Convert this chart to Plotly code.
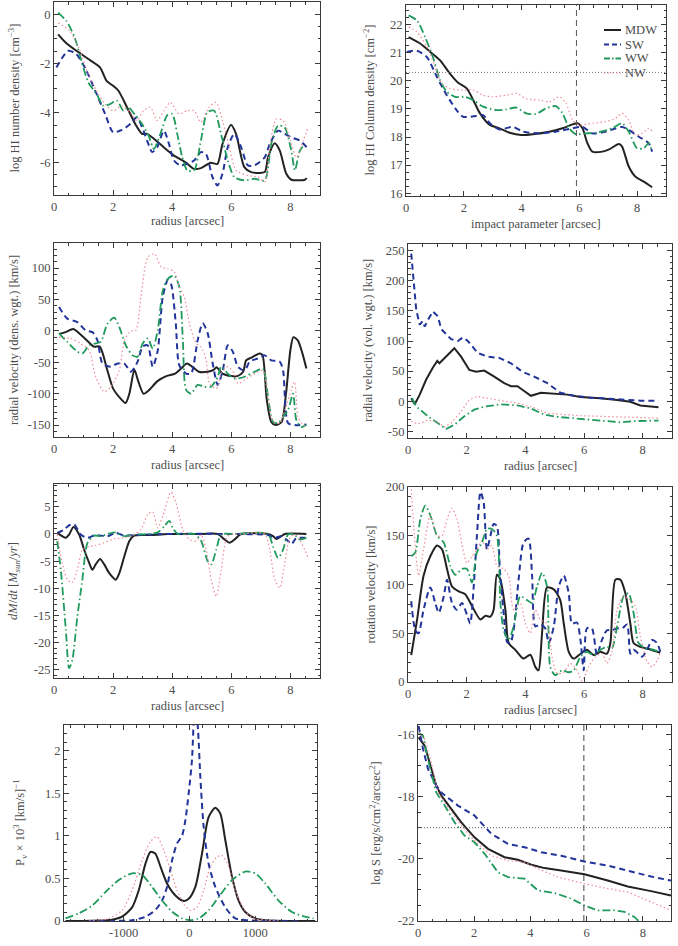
import plotly.graph_objects as go

W, H = 678, 946
FONT = "Liberation Serif"
TXT = "#4d4d4d"
AX = "#3a3a3a"

# ---------------- data ----------------
# Panel 1: log HI number density vs radius
p1_mdw_x = [0.14, 0.4, 0.76, 1.22, 1.56, 1.78, 2.0, 2.18, 2.47, 2.75, 2.98, 3.15, 3.38, 3.72, 4.06, 4.45, 4.74, 4.97, 5.3, 5.53, 5.7, 5.99, 6.16, 6.44, 6.67, 7.13, 7.24, 7.47, 7.64, 7.86, 8.03, 8.49, 8.55]
p1_mdw_y = [-0.81, -1.15, -1.48, -1.86, -2.16, -2.7, -2.9, -3.1, -3.77, -4.45, -4.85, -4.85, -5.05, -5.4, -5.73, -6.0, -6.27, -6.24, -6.02, -6.07, -5.26, -4.49, -4.85, -6.2, -6.4, -6.4, -5.8, -5.23, -5.53, -6.47, -6.71, -6.71, -6.64]
p1_sw_x = [0.08, 0.48, 0.76, 1.1, 1.44, 1.73, 2.0, 2.3, 2.58, 2.8, 2.98, 3.15, 3.32, 3.49, 3.72, 3.89, 4.06, 4.28, 4.51, 4.74, 4.97, 5.14, 5.36, 5.53, 5.7, 5.88, 6.1, 6.33, 6.56, 6.78, 7.13, 7.3, 7.58, 7.8, 8.03, 8.32, 8.55]
p1_sw_y = [-2.16, -1.48, -1.62, -2.29, -3.23, -4.04, -4.78, -4.69, -4.45, -4.18, -4.58, -5.12, -5.59, -5.39, -4.72, -5.26, -5.93, -6.13, -6.06, -5.93, -5.59, -5.66, -6.6, -6.94, -6.47, -5.39, -4.85, -5.39, -6.13, -6.13, -5.8, -5.26, -4.72, -4.85, -4.99, -5.12, -5.39]
p1_ww_x = [0.14, 0.42, 0.7, 0.93, 1.16, 1.44, 1.67, 1.9, 2.13, 2.35, 2.52, 2.75, 2.98, 3.2, 3.38, 3.6, 3.83, 4.0, 4.17, 4.34, 4.51, 4.74, 4.97, 5.19, 5.42, 5.65, 5.88, 6.1, 6.44, 6.78, 7.13, 7.35, 7.58, 7.8, 8.03, 8.15, 8.32, 8.49]
p1_ww_y = [0.07, -0.27, -0.94, -1.89, -2.76, -3.23, -3.71, -3.64, -3.5, -3.91, -3.77, -4.1, -4.45, -4.92, -5.46, -4.85, -4.1, -4.04, -4.85, -5.8, -6.33, -6.33, -5.12, -3.97, -3.91, -4.85, -5.93, -6.6, -6.74, -6.67, -6.74, -5.26, -4.52, -4.58, -5.53, -6.33, -5.53, -5.26]
p1_nw_x = [0.14, 0.53, 0.88, 1.16, 1.44, 1.73, 2.0, 2.3, 2.58, 2.8, 3.03, 3.26, 3.49, 3.72, 3.94, 4.23, 4.51, 4.74, 4.97, 5.25, 5.48, 5.7, 5.93, 6.16, 6.56, 6.9, 7.13, 7.3, 7.52, 7.75, 8.03, 8.2, 8.43, 8.6]
p1_nw_y = [-0.34, -0.67, -1.48, -2.43, -3.1, -3.64, -3.91, -3.71, -3.97, -4.31, -3.91, -3.77, -4.31, -3.91, -3.57, -4.04, -3.91, -3.91, -4.38, -3.77, -3.57, -4.31, -5.39, -6.33, -6.54, -6.6, -6.8, -5.39, -4.25, -4.31, -5.26, -5.8, -5.12, -4.58]

# Panel 2: log HI column density vs impact parameter
p2_mdw_x = [0.09, 0.49, 0.84, 1.18, 1.52, 1.81, 2.1, 2.33, 2.56, 2.9, 3.24, 3.59, 3.99, 4.39, 4.96, 5.42, 5.77, 5.94, 6.11, 6.28, 6.45, 6.8, 7.03, 7.37, 7.48, 7.71, 7.94, 8.23, 8.52]
p2_mdw_y = [21.56, 21.33, 21.03, 20.73, 20.26, 19.93, 19.73, 19.31, 18.84, 18.43, 18.31, 18.15, 18.07, 18.1, 18.19, 18.31, 18.45, 18.49, 18.31, 17.78, 17.48, 17.48, 17.56, 17.75, 17.66, 16.95, 16.59, 16.41, 16.21]
p2_sw_x = [0.03, 0.38, 0.72, 1.07, 1.41, 1.75, 1.98, 2.44, 2.67, 2.9, 3.24, 3.7, 4.05, 4.62, 5.19, 5.77, 6.11, 6.45, 6.91, 7.48, 7.71, 8.06, 8.4, 8.52]
p2_sw_y = [21.03, 21.07, 20.85, 20.14, 19.49, 18.96, 18.72, 18.75, 18.78, 18.49, 18.27, 18.36, 18.19, 18.13, 18.19, 18.31, 18.36, 18.13, 18.19, 18.36, 18.25, 18.01, 17.78, 17.48]
p2_ww_x = [0.09, 0.38, 0.66, 0.95, 1.18, 1.41, 1.7, 2.04, 2.33, 2.67, 3.13, 3.47, 3.82, 4.16, 4.5, 4.85, 5.19, 5.42, 5.65, 5.88, 6.22, 6.56, 7.14, 7.48, 7.71, 8.0, 8.23, 8.4, 8.52]
p2_ww_y = [22.33, 22.15, 21.56, 20.79, 20.02, 19.61, 19.43, 19.43, 19.31, 19.08, 18.96, 18.98, 19.05, 18.84, 18.82, 19.02, 19.1, 18.84, 18.31, 18.1, 18.13, 18.15, 18.31, 18.49, 18.19, 17.6, 17.6, 17.78, 17.48]
p2_nw_x = [0.09, 0.38, 0.72, 1.01, 1.24, 1.52, 1.93, 2.33, 2.67, 3.01, 3.47, 3.82, 4.16, 4.62, 4.96, 5.31, 5.54, 5.77, 6.0, 6.45, 6.91, 7.25, 7.48, 7.71, 7.94, 8.17, 8.4, 8.52]
p2_nw_y = [21.92, 21.74, 21.21, 20.5, 19.91, 19.73, 19.67, 19.67, 19.49, 19.43, 19.49, 19.55, 19.37, 19.31, 19.25, 19.43, 19.2, 18.6, 18.43, 18.49, 18.55, 18.66, 18.84, 18.6, 18.07, 18.13, 18.31, 18.22]
p2_vline_x = 5.9
p2_hline_y = 20.3

# Panel 3: radial velocity (density weighted)
p3_mdw_x = [0.17, 0.4, 0.65, 1.0, 1.35, 1.55, 1.8, 2.0, 2.2, 2.42, 2.55, 2.72, 2.85, 3.03, 3.2, 3.5, 3.8, 4.1, 4.3, 4.5, 4.7, 4.9, 5.2, 5.4, 5.5, 5.7, 6.0, 6.2, 6.4, 6.5, 6.7, 6.95, 7.05, 7.2, 7.35, 7.5, 7.7, 7.85, 8.0, 8.1, 8.25, 8.4, 8.54]
p3_mdw_y = [-5, -2, 3, -10, -25, -25, -62, -92, -105, -115, -100, -62, -80, -100, -95, -80, -72, -68, -60, -52, -58, -65, -65, -62, -58, -68, -72, -72, -65, -47, -42, -36, -38, -110, -145, -150, -145, -100, -30, -10, -15, -35, -60]
p3_sw_x = [0.17, 0.45, 0.79, 1.07, 1.3, 1.47, 1.64, 1.92, 2.15, 2.38, 2.6, 2.83, 3.0, 3.17, 3.34, 3.51, 3.68, 3.85, 3.96, 4.12, 4.24, 4.47, 4.64, 4.86, 5.03, 5.2, 5.37, 5.54, 5.71, 5.88, 6.05, 6.22, 6.45, 6.62, 6.9, 7.13, 7.35, 7.64, 7.75, 7.92, 8.14, 8.54]
p3_sw_y = [38, 19.5, 14, 1, -2, -15, -52, -57, -52, -52, -65, -49, -25, -23, -57, -31, 54, 81, 75, 12, -55, -68, -68, -15, 12, -4, -52, -86, -63, -23, -33, -57, -63, -49, -44, -39, -47, -49, -63, -147, -150, -149]
p3_ww_x = [0.17, 0.45, 0.79, 0.96, 1.19, 1.41, 1.58, 1.81, 2.04, 2.21, 2.43, 2.66, 2.83, 3.0, 3.17, 3.34, 3.51, 3.68, 3.85, 4.07, 4.24, 4.36, 4.47, 4.64, 4.86, 5.09, 5.31, 5.54, 5.66, 5.88, 6.1, 6.45, 6.79, 7.07, 7.24, 7.41, 7.58, 7.75, 7.92, 8.09, 8.2, 8.37, 8.54]
p3_ww_y = [-4, -17.6, -33, -36, -23, -20, -17.6, 11.5, 21, 6, -23, -39, -41, -20, -12, -28, 1, 64, 83, 88, 70, -15, -94, -100, -86, -89, -89, -73, -57, -68, -76, -73, -65, -60, -105, -145, -147, -137, -126, -100, -142, -153, -150]
p3_nw_x = [0.17, 0.57, 0.9, 1.19, 1.41, 1.7, 1.92, 2.21, 2.38, 2.6, 2.77, 2.94, 3.17, 3.4, 3.62, 3.85, 4.07, 4.24, 4.41, 4.58, 4.81, 4.98, 5.15, 5.26, 5.49, 5.66, 5.88, 6.1, 6.22, 6.45, 6.79, 7.07, 7.24, 7.41, 7.64, 7.81, 8.03, 8.14, 8.26, 8.43, 8.54]
p3_nw_y = [-10, -12, -20, -31, -73, -97, -89, -63, -15, 0, 1, 54, 117, 123, 102, 99, 94, 70, 54, 12, -20, -26, -47, -84, -92, -68, -57, -68, -84, -78, -68, -63, -105, -145, -147, -126, -94, -81, -137, -150, -152]

# Panel 4: radial velocity (volume weighted)
p4_mdw_x = [0.11, 0.23, 0.4, 0.62, 0.85, 1.0, 1.07, 1.3, 1.58, 1.81, 2.09, 2.32, 2.6, 2.94, 3.28, 3.51, 3.73, 3.96, 4.19, 4.53, 4.98, 5.43, 5.88, 6.56, 7.13, 7.58, 7.92, 8.54]
p4_mdw_y = [5, -5, 11, 36, 56, 67, 63, 74, 88, 74, 52, 49, 51, 41, 30, 25, 25, 17, 9, 14, 12, 11, 7, 5, 2, -1, -7, -10]
p4_sw_x = [0.11, 0.2, 0.28, 0.4, 0.5, 0.57, 0.68, 0.85, 1.02, 1.13, 1.47, 1.7, 1.87, 2.04, 2.38, 2.71, 3.11, 3.51, 3.9, 4.3, 4.75, 5.2, 5.66, 6.22, 6.79, 7.35, 7.92, 8.54]
p4_sw_y = [245, 201, 152, 127, 133, 124, 135, 149, 141, 120, 103, 100, 106, 100, 80, 74, 72, 63, 49, 41, 30, 14, 9, 6, 4, 2.5, 1, 1]
p4_ww_x = [0.14, 0.28, 0.68, 1.02, 1.3, 1.58, 1.92, 2.26, 2.6, 3.17, 3.73, 4.19, 4.64, 5.09, 5.66, 6.22, 6.79, 7.24, 7.69, 8.54]
p4_ww_y = [5, -8.6, -25, -36, -46, -39, -25, -14, -9, -5, -7, -12, -22, -26, -28, -31, -33, -35, -33, -32]
p4_nw_x = [0.11, 0.34, 0.68, 1.02, 1.24, 1.47, 1.81, 2.09, 2.38, 2.71, 3.17, 3.73, 4.3, 4.75, 5.32, 5.88, 6.56, 7.24, 7.92, 8.54]
p4_nw_y = [-33, -38, -31, -35, -43, -36, -17, 2.5, 8, 5, 1, -3, -11, -20, -22, -24, -25, -26, -28, -28]

# Panel 5: mass flow rate dM/dt
p5_mdw_x = [0.11, 0.4, 0.51, 0.66, 0.85, 1.02, 1.19, 1.3, 1.41, 1.56, 1.7, 1.87, 2.09, 2.21, 2.38, 2.55, 2.71, 3.28, 3.85, 4.98, 5.54, 5.77, 5.94, 6.11, 6.33, 7.24, 7.41, 7.52, 7.69, 7.81, 8.54]
p5_mdw_y = [0.2, -0.7, -0.1, 1.3, -0.1, -2.9, -5.3, -6.6, -5.6, -4.6, -5.6, -7.2, -8.4, -7.2, -4.1, -1.3, -0.3, -0.2, 0, 0, 0, -1, -1.6, -1, 0, 0, -0.4, -0.9, -0.4, 0, 0]
p5_sw_x = [0.11, 0.34, 0.51, 0.68, 0.9, 1.13, 1.41, 1.81, 2.09, 2.38, 2.71, 3.85, 6.0, 7.24, 7.47, 7.69, 7.92, 8.03, 8.2, 8.37, 8.54]
p5_sw_y = [0.2, 0.8, 1.6, 1.8, -0.1, -0.7, -0.2, -0.4, 0.2, -0.3, -0.2, 0, 0, -0.2, -0.7, -0.4, -1.3, -1.9, -0.7, -0.7, -0.7]
p5_ww_x = [0.11, 0.23, 0.4, 0.51, 0.62, 0.79, 0.96, 1.13, 1.36, 1.58, 2.04, 2.38, 2.71, 3.28, 3.51, 3.73, 3.9, 4.02, 4.19, 4.75, 4.98, 5.2, 5.32, 5.49, 5.66, 6.11, 7.24, 7.41, 7.58, 7.75, 7.92, 8.14, 8.31, 8.54]
p5_ww_y = [-1.3, -6.6, -17.6, -24.7, -23.2, -15.2, -8.4, -1.7, -0.3, -0.4, 0.3, -0.4, -0.1, 0, 0.3, 1.4, 2.4, 1.1, 0, 0, -1.3, -5, -5.6, -2.9, -0.1, 0, 0, -2.3, -4.4, -2.9, -0.1, -0.1, -1, -0.7]
p5_nw_x = [0.11, 0.28, 0.45, 0.62, 0.79, 0.96, 1.19, 1.41, 1.7, 2.04, 2.38, 2.71, 2.94, 3.17, 3.34, 3.51, 3.68, 3.96, 4.13, 4.36, 4.58, 4.81, 4.98, 5.15, 5.32, 5.49, 5.66, 5.88, 6.33, 7.13, 7.3, 7.47, 7.64, 7.81, 7.98, 8.14, 8.31, 8.48, 8.6]
p5_nw_y = [-0.1, -5.3, -8.4, -8.9, -6.6, -2.9, -2.3, -2.1, -1.6, -0.9, -0.7, -0.1, 0.8, 3.6, 4.1, 1.1, 3.3, 7.7, 5.7, 0.8, -1, -1.3, -0.1, -2.9, -8.4, -11.5, -6.6, -0.4, 0, 0, -2.9, -8.4, -9.9, -5.3, -0.7, -0.1, -1, -2.9, -4.4]

# Panel 6: rotation velocity
p6_mdw_x = [0.11, 0.31, 0.53, 0.76, 0.99, 1.16, 1.33, 1.5, 1.73, 1.95, 2.18, 2.47, 2.64, 2.81, 2.92, 3.03, 3.15, 3.32, 3.43, 3.66, 3.94, 4.17, 4.34, 4.45, 4.57, 4.74, 4.97, 5.19, 5.31, 5.48, 5.65, 5.88, 6.1, 6.33, 6.56, 6.78, 6.9, 7.07, 7.24, 7.41, 7.58, 7.69, 7.92, 8.26, 8.6]
p6_mdw_y = [27.6, 64, 109, 129, 140, 136, 116, 98, 93, 90, 78, 64, 68, 67, 74, 110, 105, 74, 40, 33, 24, 28, 15.5, 12, 50, 97, 95, 84, 60, 31, 24, 29, 33, 27.6, 31, 29, 40, 105, 105, 91, 60, 40, 36, 33.4, 30]
p6_sw_x = [0.11, 0.25, 0.36, 0.53, 0.76, 0.93, 1.05, 1.22, 1.33, 1.5, 1.67, 1.84, 2.01, 2.12, 2.24, 2.35, 2.47, 2.58, 2.69, 2.81, 2.92, 3.03, 3.13, 3.26, 3.38, 3.49, 3.6, 3.77, 3.94, 4.11, 4.23, 4.34, 4.51, 4.68, 4.8, 4.97, 5.14, 5.31, 5.48, 5.59, 5.76, 5.88, 5.99, 6.1, 6.27, 6.44, 6.61, 6.78, 6.95, 7.13, 7.3, 7.47, 7.58, 7.69, 7.86, 7.98, 8.15, 8.32, 8.49, 8.6]
p6_sw_y = [83, 53, 50, 74, 97, 81, 71, 88, 105, 81, 74, 81, 69, 60, 98, 150, 195, 184, 136, 150, 162, 160, 116, 71, 41, 40, 53, 105, 143, 147, 109, 57, 59, 55, 40, 57, 98, 109, 91, 60, 61, 43, 12, 55, 55, 27.6, 43, 53, 53, 55, 55, 59, 29, 33, 29, 26, 33, 43, 40, 31]
p6_ww_x = [0.11, 0.25, 0.42, 0.59, 0.76, 0.99, 1.22, 1.44, 1.61, 1.84, 2.01, 2.18, 2.35, 2.52, 2.69, 2.86, 3.03, 3.15, 3.26, 3.43, 3.6, 3.83, 4.06, 4.23, 4.4, 4.57, 4.74, 4.85, 5.02, 5.25, 5.48, 5.65, 5.88, 6.1, 6.33, 6.56, 6.78, 6.95, 7.13, 7.35, 7.52, 7.69, 7.86, 8.09, 8.38, 8.6]
p6_ww_y = [129, 133, 167, 181, 171, 150, 143, 119, 110, 116, 116, 102, 133, 143, 157, 157, 150, 81, 53, 43, 57, 88, 84, 81, 98, 112, 98, 15.5, 7, 12, 10, 12, 26, 31, 27.6, 33, 36, 34.5, 57, 88, 91, 71, 40, 34.5, 33, 30]
p6_nw_x = [0.11, 0.22, 0.36, 0.53, 0.76, 0.99, 1.16, 1.33, 1.5, 1.67, 1.84, 2.01, 2.18, 2.35, 2.52, 2.69, 2.86, 3.03, 3.26, 3.43, 3.6, 3.83, 4.0, 4.17, 4.34, 4.51, 4.74, 4.91, 5.08, 5.31, 5.53, 5.76, 5.93, 6.16, 6.39, 6.61, 6.78, 6.95, 7.13, 7.35, 7.58, 7.75, 7.92, 8.15, 8.32, 8.49, 8.6]
p6_nw_y = [198, 150, 109, 136, 171, 150, 150, 167, 178, 167, 141, 122, 129, 136, 145, 136, 140, 119, 116, 109, 74, 81, 60, 50, 74, 64, 60, 26, 8.6, 10, 19, 12, 1, 15.5, 26, 29, 19, 31, 74, 88, 84, 78, 47, 21, 15.5, 22, 30]

# Panel 7: velocity probability distribution P_v x 10^3
p7_mdw_x = [-1882, -1174, -1022, -870, -769, -668, -592, -516, -440, -339, -212, -86, -10, 91, 192, 293, 395, 471, 546, 648, 749, 850, 1002, 1154, 1913]
p7_mdw_y = [0, 0.016, 0.05, 0.16, 0.36, 0.67, 0.81, 0.79, 0.64, 0.44, 0.3, 0.235, 0.26, 0.4, 0.79, 1.22, 1.33, 1.26, 0.95, 0.52, 0.24, 0.106, 0.03, 0.01, 0]
p7_sw_x = [-1528, -870, -668, -516, -415, -339, -263, -187, -111, -61, -10, 40, 85, 132, 167, 218, 293, 395, 546, 698, 901, 1660]
p7_sw_y = [0, 0.01, 0.05, 0.13, 0.24, 0.4, 0.71, 0.91, 1.0, 1.18, 1.5, 1.89, 2.6, 2.24, 1.69, 1.1, 0.67, 0.4, 0.16, 0.03, 0.008, 0]
p7_ww_x = [-1882, -1680, -1477, -1275, -1073, -870, -719, -567, -415, -263, -111, 15, 142, 293, 445, 648, 850, 1002, 1154, 1356, 1559, 1761, 1888]
p7_ww_y = [0.03, 0.09, 0.18, 0.34, 0.48, 0.56, 0.54, 0.4, 0.24, 0.11, 0.03, 0.01, 0.03, 0.125, 0.28, 0.48, 0.58, 0.56, 0.44, 0.24, 0.106, 0.05, 0.03]
p7_nw_x = [-1528, -1225, -1022, -870, -719, -592, -491, -390, -288, -187, -86, 15, 116, 218, 319, 420, 496, 597, 698, 825, 951, 1154, 1407]
p7_nw_y = [0, 0.03, 0.125, 0.36, 0.71, 0.93, 0.99, 0.83, 0.6, 0.36, 0.2, 0.125, 0.16, 0.36, 0.64, 0.75, 0.77, 0.64, 0.36, 0.145, 0.04, 0.01, 0]

# Panel 8: log surface brightness
p8_mdw_x = [0.02, 0.24, 0.41, 0.65, 0.83, 1.18, 1.54, 2.01, 2.49, 3.08, 3.55, 4.03, 4.5, 5.09, 5.92, 6.75, 7.46, 8.29, 9.0]
p8_mdw_y = [-16.1, -16.37, -16.9, -17.65, -17.97, -18.4, -18.83, -19.31, -19.68, -19.95, -20.03, -20.19, -20.3, -20.38, -20.5, -20.7, -20.89, -21.04, -21.18]
p8_sw_x = [0.02, 0.18, 0.36, 0.65, 0.83, 1.42, 2.01, 2.61, 3.2, 3.79, 4.38, 5.09, 5.92, 6.75, 7.58, 8.29, 9.0]
p8_sw_y = [-15.73, -16.48, -17.12, -17.65, -17.87, -18.29, -18.61, -19.2, -19.52, -19.63, -19.79, -19.9, -20.09, -20.22, -20.41, -20.57, -20.7]
p8_ww_x = [0.02, 0.18, 0.41, 0.65, 0.95, 1.3, 1.66, 2.01, 2.37, 2.84, 3.2, 3.79, 4.27, 4.86, 5.45, 5.92, 6.4, 6.99, 7.35, 7.7, 7.94]
p8_ww_y = [-15.95, -16.05, -17.01, -17.87, -18.29, -18.83, -19.26, -19.47, -19.84, -20.43, -20.59, -20.64, -21.02, -21.1, -21.28, -21.5, -21.66, -21.66, -21.71, -21.87, -22.08]
p8_nw_x = [0.02, 0.24, 0.47, 0.71, 1.07, 1.54, 2.01, 2.61, 3.2, 3.79, 4.27, 4.98, 5.92, 6.75, 7.46, 8.29, 9.0]
p8_nw_y = [-15.95, -16.16, -16.9, -17.87, -18.35, -18.93, -19.42, -19.9, -20.06, -20.11, -20.32, -20.59, -20.8, -20.96, -21.07, -21.39, -21.66]
p8_vline_x = 5.9
p8_hline_y = -19.0

series_names = ["MDW", "SW", "WW", "NW"]

# ---------------- styles ----------------
STY = {
    "MDW": dict(color="#222222", width=2.0, dash="solid"),
    "SW": dict(color="#22349a", width=2.0, dash="6px,4px"),
    "WW": dict(color="#1f9a5c", width=1.8, dash="8px,3px,1.5px,3px"),
    "NW": dict(color="#f08c98", width=1.2, dash="1.5px,2.5px"),
}

# panel pixel boxes: (left, right, top, bottom)
BOX = {
    1: (54, 320, 2, 195), 2: (406, 666, 5, 196),
    3: (54, 320, 243, 437), 4: (408, 672, 244, 438),
    5: (54, 320, 484, 678), 6: (408, 672, 487, 682),
    7: (64, 317, 725, 921), 8: (418, 671, 725, 921),
}

panels = {
    1: [(p1_mdw_x, p1_mdw_y), (p1_sw_x, p1_sw_y), (p1_ww_x, p1_ww_y), (p1_nw_x, p1_nw_y)],
    2: [(p2_mdw_x, p2_mdw_y), (p2_sw_x, p2_sw_y), (p2_ww_x, p2_ww_y), (p2_nw_x, p2_nw_y)],
    3: [(p3_mdw_x, p3_mdw_y), (p3_sw_x, p3_sw_y), (p3_ww_x, p3_ww_y), (p3_nw_x, p3_nw_y)],
    4: [(p4_mdw_x, p4_mdw_y), (p4_sw_x, p4_sw_y), (p4_ww_x, p4_ww_y), (p4_nw_x, p4_nw_y)],
    5: [(p5_mdw_x, p5_mdw_y), (p5_sw_x, p5_sw_y), (p5_ww_x, p5_ww_y), (p5_nw_x, p5_nw_y)],
    6: [(p6_mdw_x, p6_mdw_y), (p6_sw_x, p6_sw_y), (p6_ww_x, p6_ww_y), (p6_nw_x, p6_nw_y)],
    7: [(p7_mdw_x, p7_mdw_y), (p7_sw_x, p7_sw_y), (p7_ww_x, p7_ww_y), (p7_nw_x, p7_nw_y)],
    8: [(p8_mdw_x, p8_mdw_y), (p8_sw_x, p8_sw_y), (p8_ww_x, p8_ww_y), (p8_nw_x, p8_nw_y)],
}

radius_ticks = [0, 2, 4, 6, 8]
AXES = {
    1: dict(xr=[0, 9], xt=radius_ticks, xm=0.5, yr=[-7.33, 0.5], yt=[0, -2, -4, -6], ym=0.5,
            xtitle="radius [arcsec]", ytitle="log HI number density [cm<sup>−3</sup>]"),
    2: dict(xr=[0, 9], xt=radius_ticks, xm=0.5, yr=[15.9, 22.7], yt=[16, 17, 18, 19, 20, 21, 22], ym=0.25,
            xtitle="impact parameter [arcsec]", ytitle="log HI Column density [cm<sup>−2</sup>]"),
    3: dict(xr=[0, 9], xt=radius_ticks, xm=0.5, yr=[-169, 140], yt=[-150, -100, -50, 0, 50, 100], ym=10,
            xtitle="radius [arcsec]", ytitle="radial velocity (dens. wgt.) [km/s]"),
    4: dict(xr=[0, 9], xt=radius_ticks, xm=0.5, yr=[-61, 261], yt=[-50, 0, 50, 100, 150, 200, 250], ym=10,
            xtitle="radius [arcsec]", ytitle="radial velocity (vol. wgt.) [km/s]"),
    5: dict(xr=[0, 9], xt=radius_ticks, xm=0.5, yr=[-26.5, 9.2], yt=[-25, -20, -15, -10, -5, 0, 5], ym=1,
            xtitle="radius [arcsec]", ytitle="<i>dM</i>/<i>dt</i> [<i>M<sub>sun</sub></i>/<i>yr</i>]"),
    6: dict(xr=[0, 9], xt=radius_ticks, xm=0.5, yr=[0, 200], yt=[0, 50, 100, 150, 200], ym=10,
            xtitle="radius [arcsec]", ytitle="rotation velocity [km/s]"),
    7: dict(xr=[-1905, 1940], xt=[-1000, 0, 1000], xm=200, yr=[0, 2.3], yt=[0, 0.5, 1, 1.5, 2], ym=0.1,
            xtitle="v [km/s]", ytitle="P<sub>v</sub> × 10<sup>3</sup> [km/s]<sup>−1</sup>"),
    8: dict(xr=[0, 9], xt=radius_ticks, xm=0.5, yr=[-22, -15.7], yt=[-22, -20, -18, -16], ym=0.5,
            xtitle="", ytitle="log S [erg/s/cm<sup>2</sup>/arcsec<sup>2</sup>]"),
}
YTITLE_X = {1: 13, 2: 368, 3: 14, 4: 368, 5: 14, 6: 370, 7: 20, 8: 375}
XTITLE_GAP = {1: 26, 2: 28, 3: 28, 4: 28, 5: 28, 6: 28, 7: 30, 8: 40}
FS = 12.5


def fmt(v):
    return "%g" % v


fig = go.Figure()
layout = {}
annotations = []
shapes = []

for k in range(1, 9):
    xa = "x" if k == 1 else "x%d" % k
    ya = "y" if k == 1 else "y%d" % k
    for (xs, ys), name in zip(panels[k], series_names):
        st = STY[name]
        shape = "linear" if k in (4, 8) else "spline"
        fig.add_trace(go.Scatter(
            x=xs, y=ys, mode="lines", name=name, xaxis=xa, yaxis=ya,
            showlegend=False,
            line=dict(color=st["color"], width=st["width"], dash=st["dash"], shape=shape,
                      smoothing=0.7 if shape == "spline" else None),
            cliponaxis=True,
        ))
    l, r, t, b = BOX[k]
    a = AXES[k]
    common = dict(showgrid=False, zeroline=False, showline=True, linecolor=AX, linewidth=1,
                  mirror="allticks", ticks="inside", ticklen=5, tickcolor=AX, tickwidth=1,
                  tickfont=dict(family=FONT, size=FS, color=TXT), automargin=False,
                  fixedrange=True)
    layout["xaxis" if k == 1 else "xaxis%d" % k] = dict(
        common, domain=[l / W, r / W], range=a["xr"], anchor=ya,
        tickmode="array", tickvals=a["xt"], ticktext=[fmt(v) for v in a["xt"]],
        minor=dict(ticks="inside", ticklen=2.5, tickcolor=AX, dtick=a["xm"], tick0=0, showgrid=False),
    )
    layout["yaxis" if k == 1 else "yaxis%d" % k] = dict(
        common, domain=[1 - b / H, 1 - t / H], range=a["yr"], anchor=xa,
        tickmode="array", tickvals=a["yt"], ticktext=[fmt(v) for v in a["yt"]],
        minor=dict(ticks="inside", ticklen=2.5, tickcolor=AX, dtick=a["ym"], tick0=0, showgrid=False),
    )
    annotations.append(dict(
        text=a["ytitle"], xref="paper", yref="paper",
        x=YTITLE_X[k] / W, y=1 - (t + b) / 2 / H, textangle=-90, showarrow=False,
        xanchor="center", yanchor="middle", font=dict(family=FONT, size=FS, color=TXT)))
    if a["xtitle"]:
        annotations.append(dict(
            text=a["xtitle"], xref="paper", yref="paper",
            x=(l + r) / 2 / W, y=1 - (b + XTITLE_GAP[k]) / H, showarrow=False,
            xanchor="center", yanchor="middle", font=dict(family=FONT, size=FS, color=TXT)))

# reference lines
shapes.append(dict(type="line", xref="x2", yref="y2", x0=p2_vline_x, x1=p2_vline_x,
                   y0=AXES[2]["yr"][0], y1=AXES[2]["yr"][1], line=dict(color="#555", width=1, dash="6px,4px")))
shapes.append(dict(type="line", xref="x2", yref="y2", x0=0, x1=9, y0=p2_hline_y, y1=p2_hline_y,
                   line=dict(color="#777", width=1, dash="1px,2px")))
shapes.append(dict(type="line", xref="x8", yref="y8", x0=p8_vline_x, x1=p8_vline_x,
                   y0=AXES[8]["yr"][0], y1=AXES[8]["yr"][1], line=dict(color="#444", width=1, dash="6px,4px")))
shapes.append(dict(type="line", xref="x8", yref="y8", x0=0, x1=9, y0=p8_hline_y, y1=p8_hline_y,
                   line=dict(color="#555", width=1, dash="1px,2px")))

# compact legend (panel 2), drawn in paper space to match the tight row spacing
LEG_X0, LEG_X1, LEG_TX = 604, 621, 623
LEG_ROWS = [30, 44.5, 58.5, 73]
for name, yy in zip(series_names, LEG_ROWS):
    st = STY[name]
    dash = st["dash"]
    if name == "SW":
        dash = "5px,3px"
    if name == "WW":
        dash = "6px,2px,1.5px,2px"
    shapes.append(dict(type="line", xref="paper", yref="paper",
                       x0=LEG_X0 / W, x1=LEG_X1 / W, y0=1 - yy / H, y1=1 - yy / H,
                       line=dict(color=st["color"], width=st["width"], dash=dash)))
    annotations.append(dict(text=name, xref="paper", yref="paper", x=LEG_TX / W, y=1 - yy / H,
                            xanchor="left", yanchor="middle", showarrow=False,
                            font=dict(family=FONT, size=12.5, color=TXT)))

fig.update_layout(
    width=W, height=H, margin=dict(l=0, r=0, t=0, b=0),
    paper_bgcolor="white", plot_bgcolor="white",
    font=dict(family=FONT, size=FS, color=TXT),
    annotations=annotations, shapes=shapes, showlegend=False,
    **layout,
)

fig.write_html("out.html")
